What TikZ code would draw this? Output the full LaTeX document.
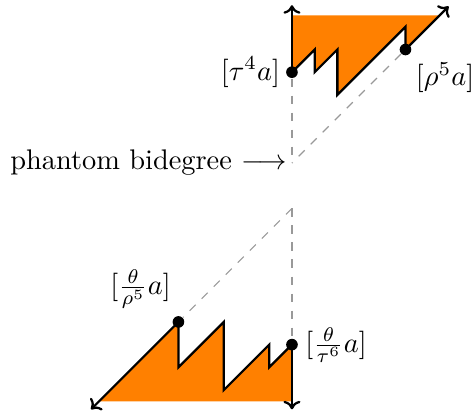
\documentclass[tikz,border=0pt]{standalone}
\usetikzlibrary{arrows.meta}
\definecolor{fillorange}{RGB}{255,128,0}
\begin{document}
\begin{tikzpicture}[x=8pt,y=8pt,
  dotnode/.style={circle,fill=black,inner sep=0pt,minimum size=4.1pt},
  edge/.style={line width=0.8pt,line join=miter},
  arrowedge/.style={line width=0.8pt,-{To[length=3pt,width=6pt]}},
  ghost/.style={dashed,gray!80,line width=0.4pt},
  lab/.style={inner sep=1.5pt}]
\useasboundingbox (-12.86,-11.19) rectangle (7.93,7.18);
% phantom points
\coordinate (P1) at (0,0);
\coordinate (P2) at (0,-2);
% top region
\fill[fillorange] (0,4) -- (1,5) -- (1,4) -- (2,5) -- (2,3) -- (5,6) -- (5,5) -- (6.5,6.5) -- (0,6.5) -- cycle;
\node[dotnode] (t4) at (0,4) {};
\node[dotnode] (r5) at (5,5) {};
\coordinate (topup) at (0,6.95);
\coordinate (topdiag) at (6.9,6.9);
\draw[ghost] (t4) -- (P1);
\draw[ghost] (r5) -- (P1);
\draw[edge] (t4.center) -- (1,5) -- (1,4) -- (2,5) -- (2,3) -- (5,6) -- (r5.center);
\draw[arrowedge] (t4.center) -- (topup);
\draw[arrowedge] (r5.center) -- (topdiag);
\node[lab,anchor=east] (t4l) at ([xshift=-2.5pt]t4.center) {$[\tau^4 a]$};
\node[lab,anchor=north west] (r5l) at ([xshift=2pt,yshift=-3pt]r5.center) {$[\rho^5 a]$};
% phantom label
\node[anchor=east,inner sep=1.5pt] (ph) at (P1) {phantom bidegree $\longrightarrow$};
% bottom region
\fill[fillorange] (0,-8) -- (-1,-9) -- (-1,-8) -- (-3,-10) -- (-3,-7) -- (-5,-9) -- (-5,-7) -- (-8.5,-10.5) -- (0,-10.5) -- cycle;
\node[dotnode] (tt6) at (0,-8) {};
\node[dotnode] (tr5) at (-5,-7) {};
\coordinate (botdown) at (0,-10.85);
\coordinate (botdiag) at (-8.85,-10.85);
\draw[ghost] (P2) -- (tt6);
\draw[ghost] (P2) -- (tr5);
\draw[edge] (tt6.center) -- (-1,-9) -- (-1,-8) -- (-3,-10) -- (-3,-7) -- (-5,-9) -- (tr5.center);
\draw[arrowedge] (tt6.center) -- (botdown);
\draw[arrowedge] (tr5.center) -- (botdiag);
\node[lab,anchor=west] (tt6l) at ([xshift=3pt]tt6.center) {$[\frac{\theta}{\tau^6}a]$};
\node[lab,anchor=south east] (tr5l) at ([xshift=-1pt,yshift=3pt]tr5.center) {$[\frac{\theta}{\rho^5}a]$};
\end{tikzpicture}
\end{document}
